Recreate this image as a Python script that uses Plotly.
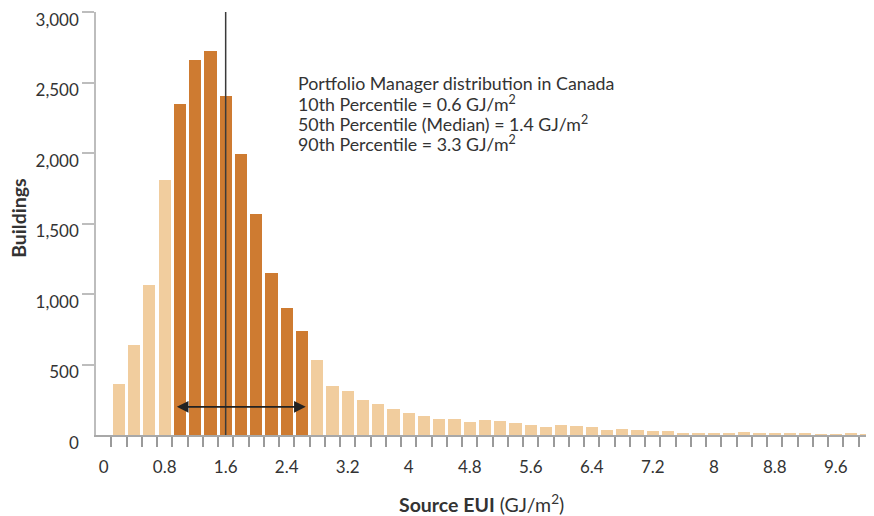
import plotly.graph_objects as go

# ---------------- data ----------------
bin_centers = [round(0.2 * k, 1) for k in range(1, 51)]
buildings = [365, 640, 1065, 1810, 2350, 2660, 2720, 2405, 1995, 1570,
             1150, 900, 740, 535, 350, 310, 250, 220, 185, 155,
             135, 115, 115, 90, 105, 100, 85, 70, 55, 70,
             65, 58, 38, 45, 38, 31, 31, 17, 17, 17,
             17, 24, 9, 17, 17, 9, 4, 4, 9, 4]

highlight_start = 1.0
highlight_end = 2.6
median_line_x = 1.6
arrow_from = 0.94
arrow_to = 2.65
arrow_level = 200

x_tick_vals = [0, 0.8, 1.6, 2.4, 3.2, 4, 4.8, 5.6, 6.4, 7.2, 8, 8.8, 9.6]
x_tick_text = ["0", "0.8", "1.6", "2.4", "3.2", "4", "4.8", "5.6", "6.4", "7.2", "8", "8.8", "9.6"]
bin_edges = [round(0.1 + 0.2 * k, 1) for k in range(50)]
y_tick_vals = [0, 500, 1000, 1500, 2000, 2500, 3000]
y_tick_text = ["0", "500", "1,000", "1,500", "2,000", "2,500", "3,000"]

note_lines = [
    "Portfolio Manager distribution in Canada",
    "10th Percentile = 0.6 GJ/m<sup>2</sup>",
    "50th Percentile (Median) = 1.4 GJ/m<sup>2</sup>",
    "90th Percentile = 3.3 GJ/m<sup>2</sup>",
]

PALE = "#F1CD9E"
DARK = "#CE7B31"
TEXT = "#333333"
FONT = "Lato, 'Open Sans', sans-serif"

colors = [DARK if highlight_start - 1e-9 <= c <= highlight_end + 1e-9 else PALE for c in bin_centers]

fig = go.Figure()
fig.add_trace(go.Bar(x=bin_centers, y=buildings, width=0.16,
                     marker=dict(color=colors, line=dict(width=0)),
                     hoverinfo="x+y"))

fig.add_shape(type="line", xref="x", yref="y", x0=median_line_x, x1=median_line_x,
              y0=0, y1=3000, line=dict(color="#3a3a3a", width=1.5), layer="above")

fig.add_annotation(x=arrow_to, y=arrow_level, ax=arrow_from, ay=arrow_level,
                   xref="x", yref="y", axref="x", ayref="y", text="",
                   showarrow=True, arrowhead=2, startarrowhead=2, arrowside="end+start",
                   arrowsize=1.3, startarrowsize=1.3, arrowwidth=1.8, arrowcolor="#222222")

for i, line in enumerate(note_lines):
    fig.add_annotation(x=2.52, y=2496, xref="x", yref="y", xanchor="left", yanchor="middle",
                       yshift=-20 * i, align="left", showarrow=False, text=line,
                       font=dict(family=FONT, size=17.8, color=TEXT))

fig.add_annotation(x=0.496, y=-0.161, xref="paper", yref="paper", xanchor="center",
                   yanchor="middle", showarrow=False,
                   text="<b>Source EUI</b> (GJ/m<sup>2</sup>)",
                   font=dict(family=FONT, size=19.5, color=TEXT))

fig.add_annotation(x=-0.1005, y=0.513, xref="paper", yref="paper", xanchor="center",
                   yanchor="middle", showarrow=False, textangle=-90,
                   text="<b>Buildings</b>",
                   font=dict(family=FONT, size=19.5, color=TEXT))

# The page body adds an 8px offset; the figure is sized/margined to compensate.
fig.update_layout(
    width=866, height=508,
    margin=dict(l=88, r=0, t=4, b=81, autoexpand=False),
    paper_bgcolor="white", plot_bgcolor="white",
    showlegend=False, bargap=0,
    font=dict(family=FONT, size=17, color=TEXT),
    xaxis=dict(range=[-0.1, 10.1], tickmode="array", tickvals=x_tick_vals, ticktext=x_tick_text,
               ticks="", showgrid=False, zeroline=False, showline=True, automargin=False,
               linecolor="#A8A8A8", linewidth=1.5, ticklabelstandoff=16,
               ticklabeloverflow="allow",
               tickfont=dict(family=FONT, size=17, color=TEXT),
               minor=dict(tickmode="array", tickvals=bin_edges, ticks="outside",
                          ticklen=10, tickwidth=1.5, tickcolor="#9A9A9A", showgrid=False)),
    yaxis=dict(range=[0, 3000], tickmode="array", tickvals=y_tick_vals, ticktext=y_tick_text,
               ticks="", showgrid=False, zeroline=False, showline=True, automargin=False,
               linecolor="#BDBDBD", linewidth=1.5, ticklabelstandoff=12, ticklabelshift=8,
               ticklabeloverflow="allow",
               tickfont=dict(family=FONT, size=17, color=TEXT),
               minor=dict(tickmode="array", tickvals=y_tick_vals[1:], ticks="outside",
                          ticklen=12, tickwidth=1.5, tickcolor="#BDBDBD", showgrid=False)),
)

fig.write_html("out.html")
